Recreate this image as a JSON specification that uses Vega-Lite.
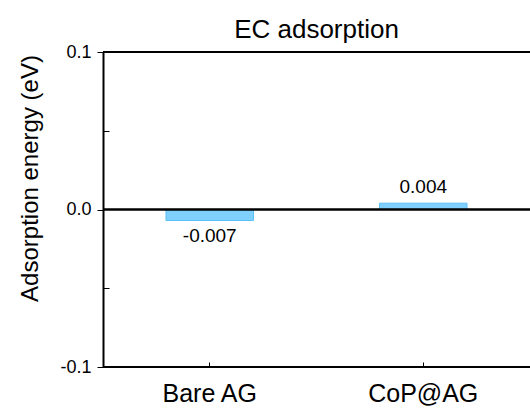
{
  "$schema": "https://vega.github.io/schema/vega-lite/v6.json",
  "autosize": "none",
  "width": 427,
  "height": 315,
  "padding": {"left": 103, "top": 52, "right": 0, "bottom": 43},
  "background": "white",
  "config": {
    "font": "Liberation Sans",
    "view": {"stroke": null}
  },
  "title": {
    "text": "EC adsorption",
    "fontSize": 26,
    "fontWeight": "normal",
    "color": "black",
    "offset": 0
  },
  "data": {
    "values": [
      {"name": "Bare AG", "value": -0.007, "label": "-0.007"},
      {"name": "CoP@AG", "value": 0.004, "label": "0.004"}
    ]
  },
  "layer": [
    {
      "mark": {"type": "bar", "fill": "#80d0ff", "stroke": "#5cc0f5", "strokeWidth": 1},
      "encoding": {
        "x": {
          "field": "name",
          "type": "nominal",
          "sort": null,
          "scale": {"paddingInner": 0.59, "paddingOuter": 0.295},
          "axis": {
            "title": null,
            "labelAngle": 0,
            "labelFontSize": 25,
            "labelColor": "black",
            "labelPadding": 14,
            "domain": false,
            "ticks": true,
            "tickColor": "black",
            "tickSize": 5,
            "offset": -5
          }
        },
        "y": {
          "field": "value",
          "type": "quantitative",
          "scale": {"domain": [-0.1, 0.1], "nice": false, "zero": false},
          "axis": {
            "title": "Adsorption energy (eV)",
            "titleFontSize": 24,
            "titleFontWeight": "normal",
            "titleColor": "black",
            "titleY": 126,
            "titlePadding": 17,
            "values": [-0.1, -0.05, 0, 0.05, 0.1],
            "labelExpr": "abs(datum.value) > 0.07 || datum.value == 0 ? replace(format(datum.value, '.1f'), '\u2212', '-') : ''",
            "labelFontSize": 18,
            "labelColor": "black",
            "labelPadding": 6,
            "grid": false,
            "domainColor": "black",
            "domainWidth": 2,
            "tickColor": "black",
            "tickWidth": 1,
            "tickSize": {"condition": {"test": "abs(datum.value) > 0.07 || datum.value == 0", "value": 6}, "value": -6}
          }
        }
      }
    },
    {
      "mark": {"type": "rule", "color": "black", "strokeWidth": 2},
      "encoding": {"y": {"datum": 0}}
    },
    {
      "mark": {"type": "rule", "color": "black", "strokeWidth": 2},
      "encoding": {"y": {"datum": 0.1}}
    },
    {
      "mark": {"type": "rule", "color": "black", "strokeWidth": 2},
      "encoding": {"y": {"datum": -0.1}}
    },
    {
      "transform": [{"filter": "datum.value < 0"}],
      "mark": {"type": "text", "fontSize": 19, "baseline": "top", "dy": 6, "color": "black"},
      "encoding": {
        "x": {"field": "name", "type": "nominal", "sort": null},
        "y": {"field": "value", "type": "quantitative"},
        "text": {"field": "label", "type": "nominal"}
      }
    },
    {
      "transform": [{"filter": "datum.value >= 0"}],
      "mark": {"type": "text", "fontSize": 19, "baseline": "bottom", "dy": -6, "color": "black"},
      "encoding": {
        "x": {"field": "name", "type": "nominal", "sort": null},
        "y": {"field": "value", "type": "quantitative"},
        "text": {"field": "label", "type": "nominal"}
      }
    }
  ]
}
